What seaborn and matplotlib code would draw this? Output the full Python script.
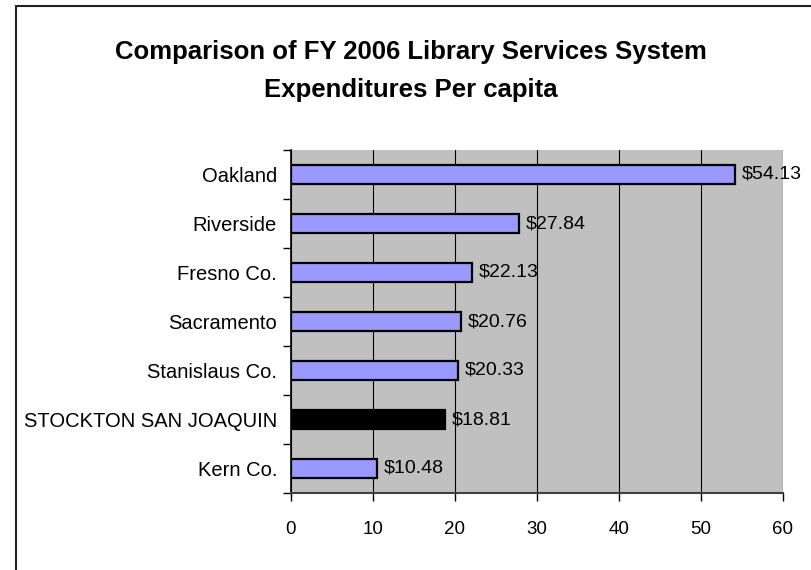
import numpy as np
import pandas as pd
import matplotlib
matplotlib.use("Agg")
import matplotlib.pyplot as plt
import seaborn as sns

# data
places = ["Oakland", "Riverside", "Fresno Co.", "Sacramento", "Stanislaus Co.",
          "STOCKTON SAN JOAQUIN", "Kern Co."]
per_capita = [54.13, 27.84, 22.13, 20.76, 20.33, 18.81, 10.48]
highlight = "STOCKTON SAN JOAQUIN"
x_ticks = [0, 10, 20, 30, 40, 50, 60]

df = pd.DataFrame({"place": places, "value": per_capita})

sns.set_theme(style="white")
plt.rcParams["font.family"] = ["Liberation Sans", "DejaVu Sans"]
plt.rcParams["text.color"] = "black"
plt.rcParams["xtick.color"] = "black"
plt.rcParams["ytick.color"] = "black"

fig = plt.figure(figsize=(8.12, 5.70), dpi=100)
ax = fig.add_axes([291 / 812, 1 - 493 / 570, 492 / 812, 343 / 570])
ax.set_facecolor("#C0C0C0")

colors = {p: ("black" if p == highlight else "#9999FF") for p in places}
sns.barplot(data=df, x="value", y="place", hue="place", palette=colors, orient="h",
            width=0.4, edgecolor="black", linewidth=1.6, saturation=1, legend=False,
            ax=ax, zorder=3)

for i, v in enumerate(per_capita):
    ax.text(v + 0.8, i, f"${v:.2f}", va="center", ha="left", fontsize=14, zorder=4)

ax.set_xlim(0, 60)
ax.set_ylim(len(places) - 0.5, -0.5)
ax.set_xticks(x_ticks)
ax.set_xticklabels([str(t) for t in x_ticks], fontsize=13.5)
ax.grid(axis="x", color="black", linewidth=0.8, zorder=1)
ax.set_axisbelow(True)

ax.set_yticks(range(len(places)))
ax.set_yticklabels(places, fontsize=14.5)
ax.set_yticks(np.arange(-0.5, len(places), 1), minor=True)
ax.tick_params(axis="y", which="major", length=0, pad=10)
ax.tick_params(axis="y", which="minor", length=6, width=1, color="black", left=True)
ax.tick_params(axis="x", length=6, width=1, color="black", bottom=True, pad=14)
ax.set_xlabel("")
ax.set_ylabel("")

for s in ["top", "right"]:
    ax.spines[s].set_visible(False)
ax.spines["left"].set_color("black")
ax.spines["left"].set_linewidth(1.2)
ax.spines["bottom"].set_color("#404040")
ax.spines["bottom"].set_linewidth(1.5)

fig.text(0.506, 1 - 52 / 570, "Comparison of FY 2006 Library Services System",
         ha="center", va="center", fontsize=18.5, fontweight="bold")
fig.text(0.506, 1 - 90 / 570, "Expenditures Per capita",
         ha="center", va="center", fontsize=18.5, fontweight="bold")

# outer chart border (only the left and top edges fall inside the image)
fig.patches.append(plt.Rectangle((16 / 812, -0.1), 1.2, 1.1 - 6 / 570, transform=fig.transFigure,
                                 fill=False, edgecolor="#202020", linewidth=1.5))

fig.savefig("out.png", dpi=100)
